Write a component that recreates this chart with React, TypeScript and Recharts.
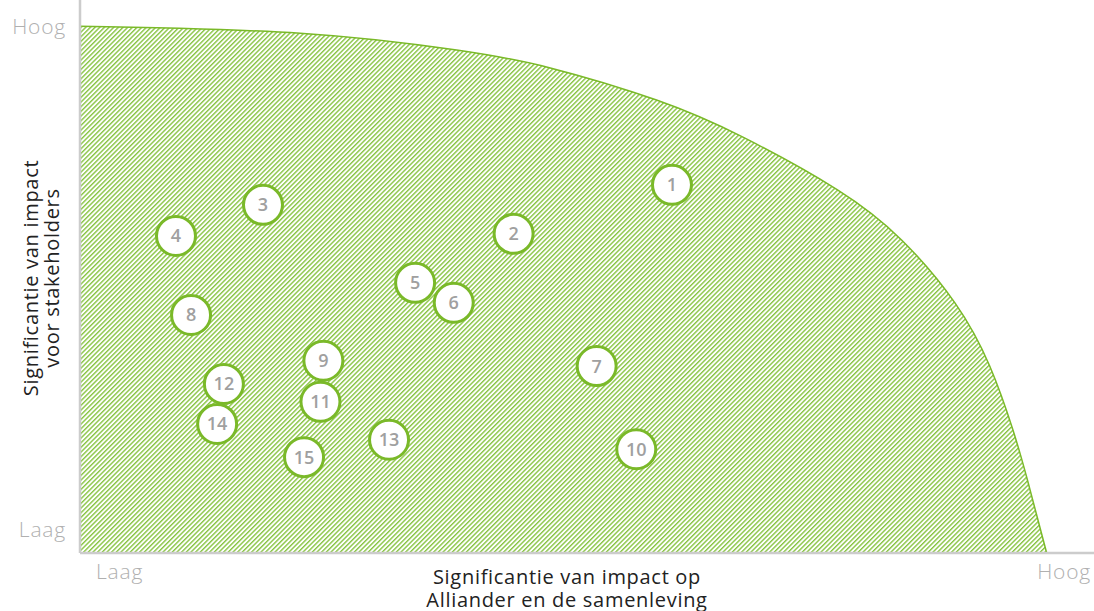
import React from 'react';
import { ComposedChart, Area, Scatter, XAxis, YAxis } from 'recharts';

// Boundary of the hatched zone (data units 0..100)
const boundaryX = [0, 22.8, 39.0, 48.7, 59.7, 68.6, 78.4, 85.1, 90.6, 94.2, 96.6, 98.1, 100.1];
const boundaryY = [100, 98.7, 95.5, 92.1, 86.0, 79.0, 69.0, 59.4, 47.5, 35.5, 23.4, 13.9, 0];

// Topics
const topicIds = [1, 2, 3, 4, 5, 6, 7, 8, 9, 10, 11, 12, 13, 14, 15];
const topicX = [61.3, 44.9, 18.95, 9.94, 34.7, 38.7, 53.5, 11.5, 25.2, 57.6, 24.9, 14.9, 32.0, 14.2, 23.2];
const topicY = [69.9, 60.6, 66.1, 60.2, 51.3, 47.5, 35.5, 45.2, 36.5, 19.7, 28.7, 32.1, 21.5, 24.5, 18.2];

// Tick labels
const xTickValues = [4.1, 101.9];
const yTickValues = [4.4, 100];
const tickLabels = ['Laag', 'Hoog'];

const xTitle = ['Significantie van impact op', 'Alliander en de samenleving'];
const yTitle = ['Significantie van impact', 'voor stakeholders'];

const GREEN = '#7ab929';
const FONT = '"Open Sans", Lato, sans-serif';

const areaData = boundaryX.map((x, i) => ({ x, y: boundaryY[i] }));
const topicData = topicIds.map((id, i) => ({ id, x: topicX[i], y: topicY[i] }));

const Bubble = (props: any) => {
  const { cx, cy, payload } = props;
  return (
    <g>
      <circle cx={cx} cy={cy} r={19.5} fill="#fff" stroke={GREEN} strokeWidth={3} />
      <text x={cx} y={cy} dy="0.36em" textAnchor="middle" fill="#a0a0a0" fontSize={18} fontWeight={600} fontFamily={FONT}>
        {payload.id}
      </text>
    </g>
  );
};

const tickStyle = { fill: '#b0b0b0', fontSize: 21, fontFamily: FONT, fontWeight: 300, letterSpacing: 0.8 };

export default function App() {
  return (
    <div style={{ position: 'absolute', left: 0, top: 0, width: 1094, height: 611, background: '#fff' }}>
      <ComposedChart width={1094} height={611} data={areaData} margin={{ top: 0, right: 0, bottom: 0, left: 0 }}>
        <defs>
          <pattern id="hatch" width="3.3" height="3.3" patternUnits="userSpaceOnUse" patternTransform="rotate(45)">
            <rect width="1.4" height="3.3" fill="#88c443" />
          </pattern>
        </defs>
        <XAxis
          type="number"
          dataKey="x"
          domain={[0, 105]}
          ticks={xTickValues}
          tickFormatter={(_v: number, i: number) => tickLabels[i]}
          height={58}
          tickSize={0}
          tickMargin={11}
          tickLine={false}
          axisLine={{ stroke: '#cccccc', strokeWidth: 2.5 }}
          tick={tickStyle}
          allowDataOverflow
        />
        <YAxis
          type="number"
          dataKey="y"
          domain={[0, 105]}
          ticks={yTickValues}
          tickFormatter={(_v: number, i: number) => tickLabels[i]}
          width={80}
          tickSize={0}
          tickMargin={14}
          tickLine={false}
          axisLine={{ stroke: '#cccccc', strokeWidth: 2.5 }}
          tick={tickStyle}
          allowDataOverflow
        />
        <Area
          type="natural"
          dataKey="y"
          stroke={GREEN}
          strokeWidth={1.5}
          fill="url(#hatch)"
          fillOpacity={1}
          isAnimationActive={false}
          dot={false}
          activeDot={false}
        />
        <Scatter data={topicData} dataKey="y" shape={Bubble} isAnimationActive={false} />
      </ComposedChart>
      <div
        style={{
          position: 'absolute',
          left: 367,
          top: 565,
          width: 400,
          textAlign: 'center',
          fontFamily: FONT,
          fontSize: 20,
          letterSpacing: 0.7,
          lineHeight: '23px',
          color: '#222',
        }}
      >
        {xTitle.map((t) => (
          <div key={t}>{t}</div>
        ))}
      </div>
      <div
        style={{
          position: 'absolute',
          left: 42 - 150,
          top: 278 - 22,
          width: 300,
          height: 44,
          transform: 'rotate(-90deg)',
          transformOrigin: '150px 22px',
          textAlign: 'center',
          fontFamily: FONT,
          fontSize: 20,
          letterSpacing: 0.7,
          lineHeight: '21px',
          color: '#222',
        }}
      >
        {yTitle.map((t) => (
          <div key={t}>{t}</div>
        ))}
      </div>
    </div>
  );
}
